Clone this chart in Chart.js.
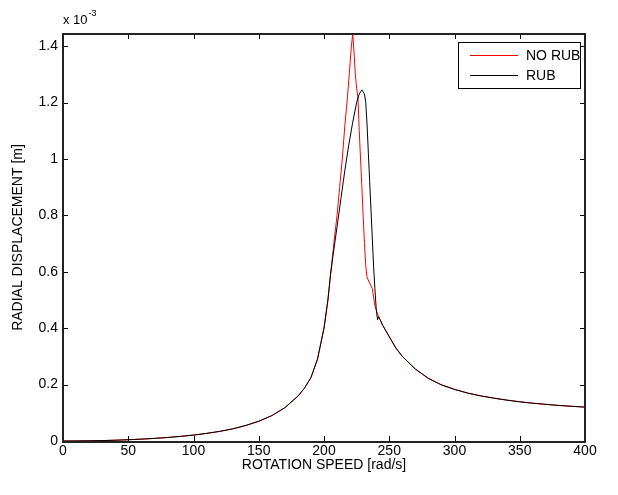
<!DOCTYPE html>
<html><head><meta charset="utf-8">
<script src="https://cdn.jsdelivr.net/npm/chart.js@4/dist/chart.umd.min.js"></script>
<style>html,body{margin:0;padding:0;background:#fff}#wrap{width:618px;height:495px}</style>
</head><body><div id="wrap"><canvas id="c" width="618" height="495"></canvas></div>
<script>
// Values in units of 1e-3 m
const speedNoRub = [0,10,20,30,40,50,60,70,80,90,100,110,120,130,140,150,160,170,180,185,190,195,200,203,205,208,210,212,214,216,218,220,221,222,223,224,225,226,227,228,229,230,231,232,233,235,237,239,241,243,245,250,255,260,270,280,290,300,310,320,330,340,350,360,370,380,390,400];
const dispNoRub  = [0,0.0002,0.0007,0.0015,0.0028,0.0045,0.0066,0.0092,0.0124,0.0163,0.021,0.027,0.034,0.043,0.055,0.070,0.090,0.118,0.159,0.187,0.225,0.29,0.40,0.50,0.59,0.72,0.80,0.90,1.00,1.12,1.22,1.34,1.40,1.443,1.38,1.30,1.25,1.22,1.10,1.00,0.90,0.80,0.70,0.62,0.58,0.56,0.54,0.48,0.45,0.43,0.41,0.37,0.33,0.30,0.255,0.222,0.199,0.183,0.170,0.160,0.152,0.145,0.139,0.134,0.130,0.126,0.123,0.120];
const speedRub   = [0,10,20,30,40,50,60,70,80,90,100,110,120,130,140,150,160,170,180,185,190,195,200,203,205,207,210,213,216,219,222,225,227,229,231,232,233,234,235,236,237,238,239,240,241,242,243,245,250,255,260,270,280,290,300,310,320,330,340,350,360,370,380,390,400];
const dispRub    = [0,0.0002,0.0007,0.0015,0.0028,0.0045,0.0066,0.0092,0.0124,0.0163,0.021,0.027,0.034,0.043,0.055,0.070,0.090,0.118,0.159,0.187,0.225,0.29,0.40,0.50,0.59,0.66,0.76,0.86,0.96,1.05,1.13,1.20,1.23,1.245,1.23,1.20,1.12,1.02,0.92,0.82,0.72,0.62,0.54,0.47,0.43,0.44,0.43,0.41,0.37,0.33,0.30,0.255,0.222,0.199,0.183,0.170,0.160,0.152,0.145,0.139,0.134,0.130,0.126,0.123,0.120];
const xTicks = [0,50,100,150,200,250,300,350,400];
const yTicks = [0,0.2,0.4,0.6,0.8,1,1.2,1.4];
const seriesNames = ['NO RUB','RUB'];

const FONT = 'Liberation Sans, Arial, Helvetica, sans-serif';
const toPts = (xs, ys) => xs.map((x, i) => ({x, y: ys[i]}));

const matlabPlugin = {
  id: 'matlab',
  afterDraw(chart) {
    const {ctx, chartArea: a} = chart;
    const x = chart.scales.x, y = chart.scales.y;
    const L0 = Math.round(a.left), R0 = Math.round(a.right), T0 = Math.round(a.top), B0 = Math.round(a.bottom);
    ctx.save();
    ctx.setLineDash([]);
    ctx.globalAlpha = 1;
    ctx.fillStyle = '#000';
    const T = 5;
    xTicks.forEach(v => {
      const px = Math.round(x.getPixelForValue(v));
      ctx.fillRect(px, B0 - T, 1, T);
      ctx.fillRect(px, T0, 1, T);
    });
    yTicks.forEach(v => {
      const py = Math.round(y.getPixelForValue(v));
      ctx.fillRect(L0, py, T, 1);
      ctx.fillRect(R0 - T, py, T, 1);
    });
    ctx.fillStyle = '#222';
    ctx.fillRect(L0 - 1, T0 - 1, R0 - L0 + 2, 2);
    ctx.fillRect(L0 - 1, B0, R0 - L0 + 2, 2);
    ctx.fillRect(L0 - 1, T0 - 1, 2, B0 - T0 + 3);
    ctx.fillRect(R0 - 1, T0 - 1, 2, B0 - T0 + 3);
    // exponent
    ctx.fillStyle = '#000';
    ctx.textBaseline = 'alphabetic';
    ctx.textAlign = 'left';
    ctx.font = '13px ' + FONT;
    ctx.fillText('x 10', L0, T0 - 10);
    const w = ctx.measureText('x 10').width;
    ctx.font = '9px ' + FONT;
    ctx.fillText('-3', L0 + w + 1, T0 - 18);
    // legend
    const lx = 458, ly = 42, lw = 122, lh = 46;
    ctx.fillStyle = '#fff';
    ctx.fillRect(lx, ly, lw, lh);
    ctx.fillStyle = '#000';
    ctx.fillRect(lx, ly, lw + 1, 1);
    ctx.fillRect(lx, ly + lh, lw + 1, 1);
    ctx.fillRect(lx, ly, 1, lh + 1);
    ctx.fillRect(lx + lw, ly, 1, lh + 1);
    const cols = ['#ff0000', '#000000'];
    ctx.font = '14px ' + FONT;
    ctx.textBaseline = 'middle';
    seriesNames.forEach((n, i) => {
      const yy = ly + 13 + i * 20;
      ctx.fillStyle = cols[i];
      ctx.fillRect(470, yy, 48, 1);
      ctx.fillStyle = '#000';
      ctx.fillText(n, 526, yy + 1);
    });
    ctx.restore();
  }
};

new Chart(document.getElementById('c'), {
  type: 'line',
  data: {
    datasets: [
      {label: seriesNames[1], data: toPts(speedRub, dispRub), borderColor: '#000000', borderWidth: 1, pointRadius: 0, tension: 0, order: 0},
      {label: seriesNames[0], data: toPts(speedNoRub, dispNoRub), borderColor: '#ff0000', borderWidth: 1, pointRadius: 0, tension: 0, order: 1}
    ]
  },
  options: {
    responsive: false,
    animation: false,
    events: [],
    layout: {padding: {top: 34, right: 33, left: 0, bottom: 0}},
    plugins: {legend: {display: false}, tooltip: {enabled: false}},
    scales: {
      x: {
        type: 'linear', min: 0, max: 400,
        afterFit: s => { s.height = 54; },
        afterBuildTicks: s => { s.ticks = xTicks.map(v => ({value: v})); },
        grid: {display: false, drawTicks: false, tickLength: 0}, border: {display: false},
        ticks: {color: '#000', font: {family: FONT, size: 14}, padding: 2, maxRotation: 0, autoSkip: false},
        title: {display: true, text: 'ROTATION SPEED [rad/s]', color: '#000', font: {family: FONT, size: 14}, padding: {top: 2, bottom: 21}}
      },
      y: {
        type: 'linear', min: 0, max: 1.443,
        afterFit: s => { s.width = 63; },
        afterBuildTicks: s => { s.ticks = yTicks.map(v => ({value: v})); },
        grid: {display: false, drawTicks: false, tickLength: 0}, border: {display: false},
        ticks: {color: '#000', font: {family: FONT, size: 14}, padding: 5, autoSkip: false,
          callback: v => String(Number(v.toFixed(1)))},
        title: {display: true, text: 'RADIAL DISPLACEMENT [m]', color: '#000', font: {family: FONT, size: 14}, padding: {top: 10, bottom: 0}}
      }
    }
  },
  plugins: [matlabPlugin]
});
</script></body></html>
